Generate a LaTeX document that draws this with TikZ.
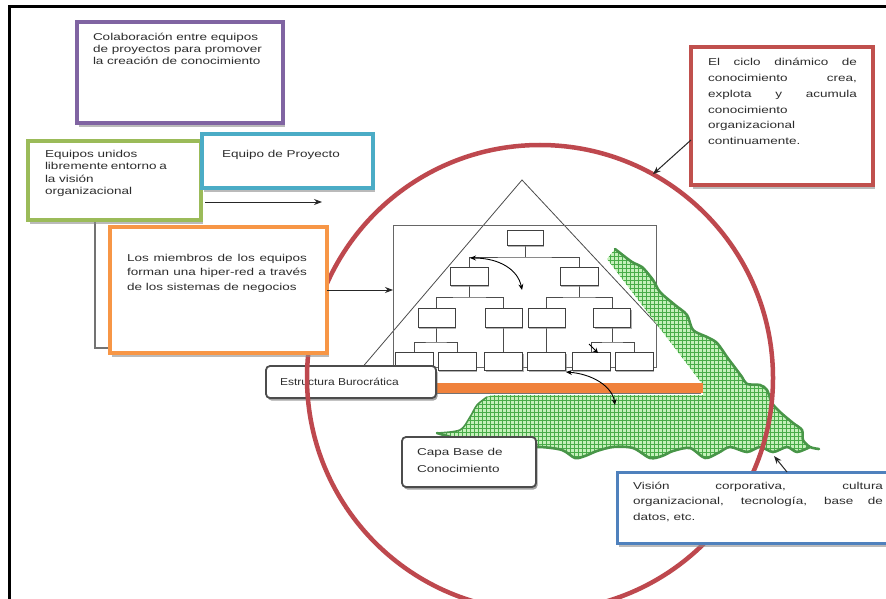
\documentclass[tikz,border=0pt]{standalone}
\usepackage{fontspec}
\setmainfont[FakeStretch=1.35]{Liberation Sans}
\newfontfamily\narrowsans[FakeStretch=1.2]{Liberation Sans}
\usetikzlibrary{arrows.meta,shadows,calc}

\definecolor{purplebox}{RGB}{128,100,162}
\definecolor{greenbox}{RGB}{155,187,89}
\definecolor{aquabox}{RGB}{75,172,198}
\definecolor{orangebox}{RGB}{247,150,70}
\definecolor{redbox}{RGB}{192,80,77}
\definecolor{bluebox}{RGB}{79,129,189}
\definecolor{ringred}{RGB}{190,72,78}
\definecolor{hatchlight}{RGB}{196,240,186}
\definecolor{hatchdark}{RGB}{72,172,72}
\definecolor{edgegreen}{RGB}{72,150,72}
\definecolor{bartone}{RGB}{240,130,60}
\definecolor{inktext}{RGB}{45,45,45}

\begin{document}
\begin{tikzpicture}[x=1pt,y=-1pt,
  every node/.style={inner sep=0pt, outer sep=0pt},
  panel/.style={draw, fill=white, line width=4pt,
    drop shadow={shadow xshift=2pt, shadow yshift=-4pt, fill=black!45, opacity=.6}},
  roundbox/.style={draw=black!70, fill=white, line width=1.8pt, rounded corners=4pt,
    drop shadow={shadow xshift=1.5pt, shadow yshift=-2.5pt, fill=black!60, opacity=.6}},
  orgbox/.style={draw=black!75, fill=white, line width=1pt,
    minimum width=38pt, minimum height=18pt,
    drop shadow={shadow xshift=1.2pt, shadow yshift=-1.5pt, fill=black!50, opacity=.6}},
  orgline/.style={black!70, line width=0.9pt},
  note/.style={anchor=north west, align=left, text=inktext},
  link/.style={black!85, line width=1pt, arrows={-Stealth[length=8pt,width=6pt]}},
  swing/.style={black, line width=0.9pt, arrows={Stealth[length=6pt,width=5pt]-Stealth[length=6pt,width=5pt]}},
  ragged/.style={edgegreen, line width=2.6pt, line join=round, line cap=round}
]
\useasboundingbox (0,0) rectangle (886,599);
\fill[white] (0,0) rectangle (886,599);

% page frame
\draw[line width=3pt] (9,599) -- (9,7) -- (886,7);

% pyramid
\coordinate (apex) at (522,180);
\coordinate (baseL) at (343,390);
\coordinate (baseR) at (718,390);
\draw[black!70, line width=0.8pt] (apex) -- (baseR) -- (baseL) -- cycle;

% organisation chart frame
\node[draw=black!60, line width=1pt, minimum width=263pt, minimum height=142pt] (orgframe) at (524.5,296) {};

% chart connectors
\coordinate (t1s) at (525,245);
\draw[orgline] (t1s) -- ++(0,12) coordinate (j1);
\draw[orgline] (469,267) |- (j1) -| (579,267);
\draw[orgline] (469,285) -- ++(0,12) coordinate (j2);
\draw[orgline] (436.5,308) |- (j2) -| (503.5,308);
\draw[orgline] (579,285) -- ++(0,12) coordinate (j3);
\draw[orgline] (546.5,308) |- (j3) -| (612,308);
\draw[orgline] (436.5,327) -- ++(0,15) coordinate (j4);
\draw[orgline] (414,352) |- (j4) -| (457,352);
\draw[orgline] (503.5,327) -- (503.5,352);
\draw[orgline] (546.5,327) -- (546.5,352);
\draw[orgline] (612,327) -- ++(0,15) coordinate (j5);
\draw[orgline] (591,352) |- (j5) -| (634,352);

% chart boxes
\node[orgbox, minimum width=36pt, minimum height=15pt] (t1) at (525,237.5) {};
\node[orgbox] (b21) at (469,276) {};
\node[orgbox] (b22) at (579,276) {};
\node[orgbox, minimum width=37pt, minimum height=19pt] (b31) at (436.5,317.5) {};
\node[orgbox, minimum width=37pt, minimum height=19pt] (b32) at (503.5,317.5) {};
\node[orgbox, minimum width=37pt, minimum height=19pt] (b33) at (546.5,317.5) {};
\node[orgbox, minimum width=37pt, minimum height=19pt] (b34) at (612,317.5) {};
\node[orgbox] (b41) at (414,361) {};
\node[orgbox] (b42) at (457,361) {};
\node[orgbox] (b43) at (503.5,361) {};
\node[orgbox] (b44) at (546.5,361) {};
\node[orgbox] (b45) at (591,361) {};
\node[orgbox] (b46) at (634,361) {};

% knowledge base layer (cross-hatched)
\fill[hatchlight] (607,259) -- (615,249)
  -- plot[smooth, tension=0.5] coordinates {(618,250) (632,262) (642,267) (653,280) (660,292) (675,305) (687,315) (693,330) (707,337) (717,343) (727,357) (733,365) (742,377) (747,384) (760,385) (767,390) (772,403) (780,412) (793,423) (802,430) (803,440) (810,447)}
  -- plot[smooth, tension=0.5] coordinates {(810,447) (797,452) (787,447) (773,452) (760,447) (747,452) (730,447) (718,453) (705,458) (690,448) (673,451) (662,456) (650,458) (633,448) (613,447) (597,451) (585,456) (575,458) (562,450) (540,447) (513,448) (480,447) (460,440) (437,433)}
  -- plot[smooth] coordinates {(437,433) (460,430) (470,417) (477,405) (487,397) (493,395)}
  -- (703,395) -- (703,385) -- cycle;
\begin{scope}
\clip (607,259) -- (615,249)
  -- plot[smooth, tension=0.5] coordinates {(618,250) (632,262) (642,267) (653,280) (660,292) (675,305) (687,315) (693,330) (707,337) (717,343) (727,357) (733,365) (742,377) (747,384) (760,385) (767,390) (772,403) (780,412) (793,423) (802,430) (803,440) (810,447)}
  -- plot[smooth, tension=0.5] coordinates {(810,447) (797,452) (787,447) (773,452) (760,447) (747,452) (730,447) (718,453) (705,458) (690,448) (673,451) (662,456) (650,458) (633,448) (613,447) (597,451) (585,456) (575,458) (562,450) (540,447) (513,448) (480,447) (460,440) (437,433)}
  -- plot[smooth] coordinates {(437,433) (460,430) (470,417) (477,405) (487,397) (493,395)}
  -- (703,395) -- (703,385) -- cycle;
\foreach \gx in {430,434,...,822} \draw[hatchdark, line width=1pt] (\gx,240) -- (\gx,462);
\foreach \gy in {240,244,...,462} \draw[hatchdark, line width=1pt] (430,\gy) -- (822,\gy);
\end{scope}
\draw[ragged] plot[smooth, tension=0.5] coordinates {(615,249) (632,262) (642,267) (653,280) (660,292) (675,305) (687,315) (693,330) (707,337) (717,343) (727,357) (733,365) (742,377) (747,384) (760,385) (767,390) (772,403) (780,412) (793,423) (802,430) (803,440) (810,447) (819,449)};
\draw[ragged] plot[smooth, tension=0.5] coordinates {(810,447) (797,452) (787,447) (773,452) (760,447) (747,452) (730,447) (718,453) (705,458) (690,448) (673,451) (662,456) (650,458) (633,448) (613,447) (597,451) (585,456) (575,458) (562,450) (540,447) (513,448) (480,447) (460,440) (437,433)};
\draw[ragged, line width=1.6pt] plot[smooth] coordinates {(437,433) (460,430) (470,417) (477,405) (487,397)};

% bureaucratic base bar
\fill[bartone] (437,383) rectangle (703,393);
\draw[black!55, line width=0.6pt] (437,393.5) -- (701,393.5);

% movement arrows inside the structure
\coordinate (sw1) at (470,258);
\coordinate (sw2) at (522,290);
\draw[swing] (sw1) .. controls (500,258) and (518,270) .. (sw2);
\coordinate (sw3) at (566,372);
\coordinate (sw4) at (615,405);
\draw[swing] (sw3) .. controls (592,374) and (612,386) .. (sw4);
\coordinate (sw5) at (589,344);
\coordinate (sw6) at (598,353);
\draw[black, line width=0.9pt, arrows={-Stealth[length=5pt,width=5pt]}] (sw5) -- (sw6);

% labelled rounded boxes
\node[roundbox, minimum width=170pt, minimum height=32pt] (estr) at (351,382) {};
\node[note, font=\narrowsans\fontsize{10}{12}\selectfont] (estrtxt) at ([shift={(14,12.4)}]estr.north west) {Estructura Burocrática};

% knowledge cycle ring
\node[circle, draw=ringred, line width=4.5pt, minimum size=466pt] (ring) at (540,378) {};

\node[roundbox, minimum width=134pt, minimum height=50pt] (capa) at (469,462) {};
\node[note, font=\fontsize{10}{17}\selectfont] (capatxt) at ([shift={(15,11.4)}]capa.north west) {Capa Base de\\Conocimiento};

% elbow link between the team boxes
\draw[black!55, line width=1.2pt] (95,220) |- (110,348);

% text panels
\node[panel, draw=purplebox, minimum width=206pt, minimum height=101pt] (purpleb) at (180,72.5) {};
\node[note, font=\fontsize{10}{12}\selectfont] (purpletxt) at ([shift={(16,11.3)}]purpleb.north west)
  {Colaboración entre equipos\\de proyectos para promover\\la creación de conocimiento};

\node[panel, draw=greenbox, minimum width=173pt, minimum height=79pt] (greenb) at (114.5,180.5) {};
\node[note, font=\fontsize{10}{12.3}\selectfont] (greentxt) at ([shift={(17,9.4)}]greenb.north west)
  {Equipos unidos\\\makebox[122pt][s]{libremente entorno a}\\la visión\\organizacional};

\node[panel, draw=aquabox, minimum width=171pt, minimum height=54pt] (aquab) at (287.5,161) {};
\node[note, font=\fontsize{10}{12}\selectfont] (aquatxt) at ([shift={(20,16.4)}]aquab.north west) {Equipo de Proyecto};

\node[panel, draw=orangebox, minimum width=217pt, minimum height=126pt] (orangeb) at (218.5,290) {};
\node[note, font=\fontsize{10}{14.2}\selectfont] (orangetxt) at ([shift={(17,27.4)}]orangeb.north west)
  {\makebox[180pt][s]{Los miembros de los equipos}\\\makebox[180pt][s]{forman una hiper-red a través}\\de los sistemas de negocios};

\node[panel, draw=redbox, minimum width=182pt, minimum height=138pt] (redb) at (782,116) {};
\node[note, font=\fontsize{10}{15.8}\selectfont] (redtxt) at ([shift={(17,11.3)}]redb.north west)
  {\makebox[149pt][s]{El ciclo dinámico de}\\\makebox[149pt][s]{conocimiento crea,}\\\makebox[149pt][s]{explota y acumula}\\conocimiento\\organizacional\\continuamente.};

\node[panel, draw=bluebox, line width=3pt, minimum width=288pt, minimum height=71pt] (blueb) at (761,507.5) {};
\node[note, font=\fontsize{10}{15.3}\selectfont] (bluetxt) at ([shift={(16,10.3)}]blueb.north west)
  {\makebox[250pt][s]{Visión corporativa, cultura}\\\makebox[250pt][s]{organizacional, tecnología, base de}\\datos, etc.};

% connectors
\coordinate (aim) at (322,202);
\draw[link] (205,202) -- (aim);
\draw[link] (orangeb.east) -- (orangeb.east -| orgframe.west);
\draw[link] ([shift={(0,24)}]redb.west) -- (ring.61.5);
\coordinate (tipv) at (774,456);
\draw[link] ([shift={(170,0)}]blueb.north west) -- (tipv);
\end{tikzpicture}
\end{document}
